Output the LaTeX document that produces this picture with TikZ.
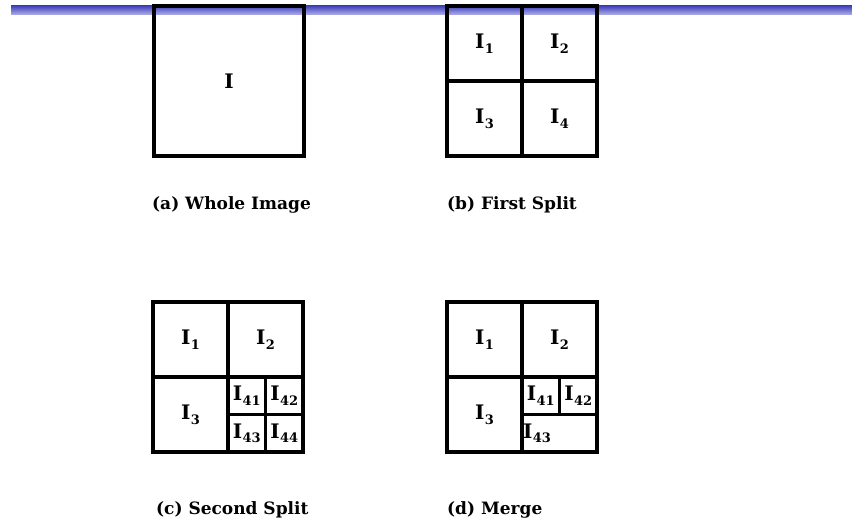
\documentclass[tikz,border=0pt]{standalone}
\usepackage{fontspec}
\setmainfont{DejaVu Serif}
\usetikzlibrary{positioning}
\definecolor{bardark}{RGB}{55,55,185}
\definecolor{barlight}{RGB}{165,165,228}
\newcommand{\Isub}[1]{I\kern0.5pt\raisebox{-0.45ex}{\fontsize{13}{13}\selectfont #1}}

\begin{document}
\begin{tikzpicture}[x=1pt,y=-1pt,
    cell/.style={draw,line width=3.2pt,inner sep=0pt,outer sep=0pt,minimum size=75pt,
      font=\fontsize{20}{20}\bfseries\selectfont},
    big/.style={cell,minimum size=150pt},
    small/.style={cell,minimum size=37.5pt},
    wide/.style={cell,minimum height=37.5pt,inner xsep=1pt,text width=73pt,align=left},
    caption/.style={inner sep=0pt,font=\fontsize{17}{17}\bfseries\selectfont}]
  \useasboundingbox (0,0) rectangle (852,525);
  % title bar
  \shade[top color=bardark,bottom color=barlight] (11,5) rectangle (852,14);
  % (a)
  \node[big] (whole) at (229,81) {I};
  % (b)
  \node[cell] (b1) at (484.5,43.5) {\Isub{1}};
  \node[cell,right=0pt of b1] (b2) {\Isub{2}};
  \node[cell,below=0pt of b1] (b3) {\Isub{3}};
  \node[cell,right=0pt of b3] (b4) {\Isub{4}};
  % (c)
  \node[cell] (c1) at (190.5,339.5) {\Isub{1}};
  \node[cell,right=0pt of c1] (c2) {\Isub{2}};
  \node[cell,below=0pt of c1] (c3) {\Isub{3}};
  \node[small,below right=0pt of c2.south west] (c41) {\Isub{41}};
  \node[small,right=0pt of c41] (c42) {\Isub{42}};
  \node[small,below=0pt of c41] (c43) {\Isub{43}};
  \node[small,right=0pt of c43] (c44) {\Isub{44}};
  % (d)
  \node[cell] (d1) at (484.5,339.5) {\Isub{1}};
  \node[cell,right=0pt of d1] (d2) {\Isub{2}};
  \node[cell,below=0pt of d1] (d3) {\Isub{3}};
  \node[small,below right=0pt of d2.south west] (d41) {\Isub{41}};
  \node[small,right=0pt of d41] (d42) {\Isub{42}};
  \node[wide,below right=0pt of d41.south west] (d43) {\Isub{43}};
  % captions
  \node[caption,below right=40pt and -2pt of whole.south west] (capa) {(a) Whole Image};
  \node[caption,below right=40pt and 0pt of b3.south west] (capb) {(b) First Split};
  \node[caption,below right=49pt and 3pt of c3.south west] (capc) {(c) Second Split};
  \node[caption,below right=49pt and 0pt of d3.south west] (capd) {(d) Merge};
\end{tikzpicture}
\end{document}
